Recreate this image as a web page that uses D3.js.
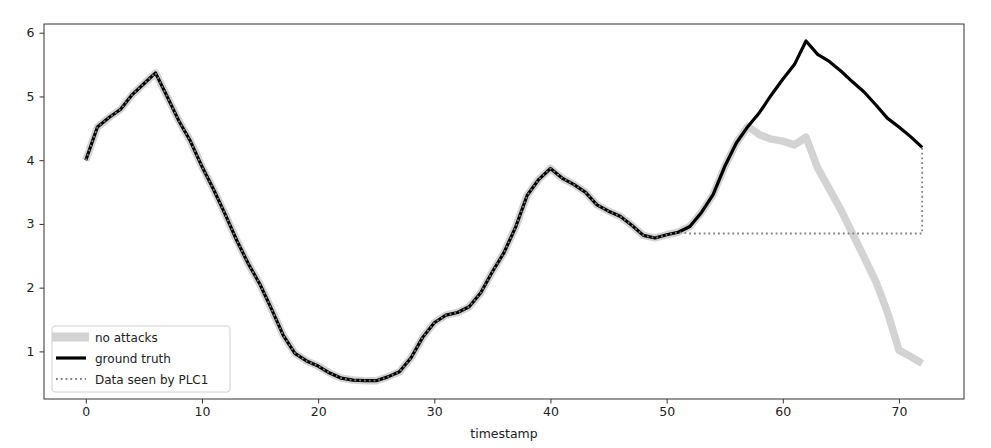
<!DOCTYPE html>
<html>
<head>
<meta charset="utf-8">
<script src="https://cdn.jsdelivr.net/npm/d3@7"></script>
<style>
  body { margin: 0; background: #fff; }
  text { font-family: "DejaVu Sans", sans-serif; fill: #222; }
</style>
</head>
<body>
<svg id="chart"></svg>
<script>
// timestamps 0..72
var timestamps = d3.range(0, 73);

var groundTruth = [
  4.00, 4.52, 4.67, 4.80, 5.03, 5.20, 5.37, 5.00, 4.62, 4.30,
  3.90, 3.54, 3.15, 2.74, 2.37, 2.05, 1.66, 1.25, 0.97, 0.85,
  0.77, 0.66, 0.58, 0.55, 0.54, 0.54, 0.60, 0.68, 0.90, 1.22,
  1.45, 1.57, 1.61, 1.70, 1.92, 2.25, 2.55, 2.95, 3.45, 3.70,
  3.87, 3.72, 3.62, 3.50, 3.30, 3.20, 3.12, 2.98, 2.82, 2.78,
  2.83, 2.87, 2.96, 3.18, 3.46, 3.90, 4.27, 4.53, 4.75, 5.02,
  5.27, 5.50, 5.87, 5.66, 5.55, 5.40, 5.23, 5.07, 4.87, 4.66,
  4.52, 4.37, 4.20
];

// no attacks: same as ground truth until t=57, then diverges
var noAttacksTail = [4.40, 4.33, 4.30, 4.24, 4.36, 3.88, 3.55, 3.22, 2.85, 2.48,
  2.10, 1.62, 1.02, 0.92, 0.81];
var noAttacks = groundTruth.slice(0, 58).concat(noAttacksTail);

// what PLC1 sees: frozen after t=51, then jumps back at the last timestamp
var plcTailTimes = [52, 53, 54, 55, 56, 57, 58, 59, 60, 61, 62, 63, 64, 65, 66, 67, 68, 69, 70, 71, 72, 72];
var plcTail = [2.85, 2.85, 2.85, 2.85, 2.85, 2.85, 2.85, 2.85, 2.85, 2.85,
  2.85, 2.85, 2.85, 2.85, 2.85, 2.85, 2.85, 2.85, 2.85, 2.85, 2.85, 4.20];
var plcTimes = timestamps.slice(0, 52).concat(plcTailTimes);
var plcData = groundTruth.slice(0, 52).concat(plcTail);

var xTicks = [0, 10, 20, 30, 40, 50, 60, 70];
var yTicks = [1, 2, 3, 4, 5, 6];

var width = 991, height = 448;
var margin = {top: 24, right: 27, bottom: 49, left: 44};

var svg = d3.select("#chart").attr("width", width).attr("height", height);

var x = d3.scaleLinear().domain([-3.6, 75.6]).range([margin.left, width - margin.right]);
var y = d3.scaleLinear().domain([0.253, 6.137]).range([height - margin.bottom, margin.top]);

var line = d3.line()
  .x(function (d) { return x(d[0]); })
  .y(function (d) { return y(d[1]); });

function pairs(ts, vs) {
  return vs.map(function (v, i) { return [ts[i], v]; });
}

var series = [
  {name: "no attacks", pts: pairs(timestamps, noAttacks), color: "#d3d3d3", w: 7.5, dash: null},
  {name: "ground truth", pts: pairs(timestamps, groundTruth), color: "#000", w: 3.2, dash: null},
  {name: "Data seen by PLC1", pts: pairs(plcTimes, plcData), color: "#808080", w: 1.8, dash: "1.8,3"}
];

var plot = svg.append("g");
series.forEach(function (s) {
  plot.append("path")
    .attr("d", line(s.pts))
    .attr("fill", "none")
    .attr("stroke", s.color)
    .attr("stroke-width", s.w)
    .attr("stroke-linejoin", "round")
    .attr("stroke-dasharray", s.dash);
});

// axes
var xAxis = svg.append("g")
  .attr("transform", "translate(0," + (height - margin.bottom) + ")")
  .call(d3.axisBottom(x).tickValues(xTicks).tickSize(4.5).tickPadding(4));
var yAxis = svg.append("g")
  .attr("transform", "translate(" + margin.left + ",0)")
  .call(d3.axisLeft(y).tickValues(yTicks).tickFormat(d3.format("d")).tickSize(4.5).tickPadding(5));

[xAxis, yAxis].forEach(function (a) {
  a.select(".domain").remove();
  a.selectAll("line").attr("stroke", "#333");
  a.selectAll("text").style("font-size", "12.5px").attr("fill", "#222");
});

// frame
svg.append("rect")
  .attr("x", margin.left).attr("y", margin.top)
  .attr("width", width - margin.left - margin.right)
  .attr("height", height - margin.top - margin.bottom)
  .attr("fill", "none").attr("stroke", "#333").attr("stroke-width", 1);

svg.append("text")
  .attr("x", (margin.left + width - margin.right) / 2)
  .attr("y", 438)
  .attr("text-anchor", "middle")
  .style("font-size", "12.5px")
  .text("timestamp");

// legend
var lg = svg.append("g").attr("transform", "translate(52,326)");
lg.append("rect")
  .attr("width", 178).attr("height", 66).attr("rx", 3)
  .attr("fill", "#fff").attr("fill-opacity", 0.8)
  .attr("stroke", "#d0d0d0");
series.forEach(function (s, i) {
  var cy = 11 + i * 21;
  lg.append("line")
    .attr("x1", s.w > 5 ? 0 : 4).attr("x2", s.w > 5 ? 37 : 34)
    .attr("y1", cy).attr("y2", cy)
    .attr("stroke", s.color)
    .attr("stroke-width", s.w > 5 ? 9 : s.w)
    .attr("stroke-dasharray", s.dash);
  lg.append("text")
    .attr("x", 43).attr("y", cy + 4.5)
    .style("font-size", "12px")
    .text(s.name);
});
</script>
</body>
</html>
